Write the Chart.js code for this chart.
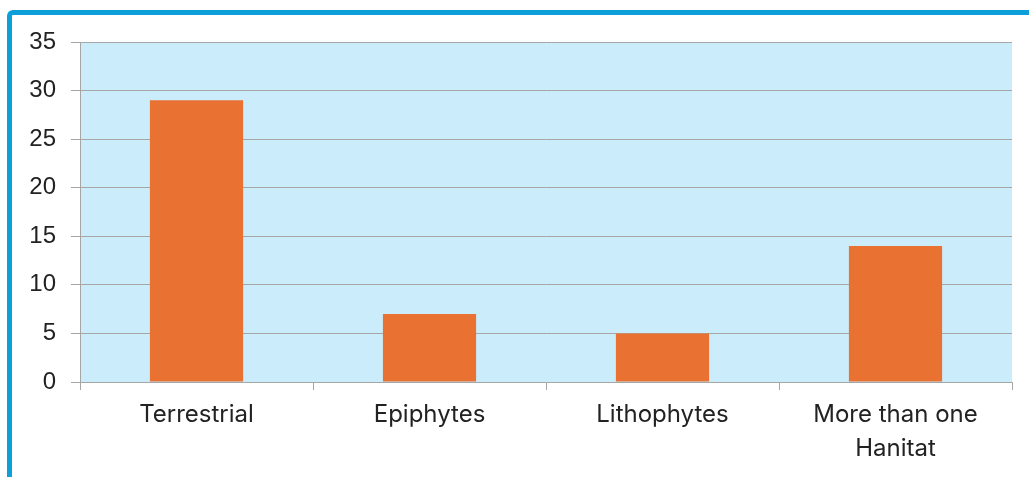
<!DOCTYPE html>
<html>
<head>
<meta charset="utf-8">
<script src="https://cdn.jsdelivr.net/npm/chart.js@4"></script>
<style>
  html, body { margin: 0; padding: 0; background: #fff; overflow: hidden; }
  #frame {
    position: absolute; left: 7px; top: 10px; width: 1100px; height: 600px;
    border-top: 5px solid #0c9fd9; border-left: 5px solid #0c9fd9;
    border-top-left-radius: 6px; box-sizing: border-box;
  }
  #wrap { position: absolute; left: 0; top: 0; width: 1029px; height: 477px; }
</style>
</head>
<body>
<div id="frame"></div>
<div id="wrap"><canvas id="chart"></canvas></div>
<script>
// habitat categories and species counts
const categories = ['Terrestrial', 'Epiphytes', 'Lithophytes', ['More than one', 'Hanitat']];
const counts = [29, 7, 5, 14];
const yTicks = [0, 5, 10, 15, 20, 25, 30, 35];

// fill the plot area light blue
const plotBg = {
    id: 'plotBg',
    beforeDraw(chart) {
        const { ctx, chartArea: a } = chart;
        ctx.save();
        ctx.fillStyle = '#cbecfb';
        ctx.fillRect(a.left, a.top, a.right - a.left, a.bottom - a.top);
        ctx.restore();
    }
};

new Chart(document.getElementById('chart'), {
    type: 'bar',
    data: {
        labels: categories,
        datasets: [{
            data: counts,
            backgroundColor: '#e97132',
            categoryPercentage: 1,
            barPercentage: 0.4
        }]
    },
    options: {
        responsive: true,
        maintainAspectRatio: false,
        animation: false,
        layout: { padding: { top: 42, right: 17, left: 0, bottom: 0 } },
        plugins: { legend: { display: false }, tooltip: { enabled: false } },
        scales: {
            x: {
                grid: { offset: true, drawOnChartArea: false, tickLength: 8, color: '#a6a6a6' },
                border: { color: '#a6a6a6' },
                ticks: {
                    color: '#222',
                    font: { family: 'Inter', size: 24, lineHeight: 1.4 },
                    padding: 8,
                    maxRotation: 0
                },
                afterFit(scale) { scale.height = 95; }
            },
            y: {
                min: 0,
                max: 35,
                afterBuildTicks(scale) { scale.ticks = yTicks.map(v => ({ value: v })); },
                grid: { color: '#a6a6a6', tickLength: 9 },
                border: { color: '#a6a6a6' },
                ticks: {
                    color: '#222',
                    font: { family: 'Liberation Sans', size: 24 },
                    padding: 15
                },
                afterFit(scale) { scale.width = 80; }
            }
        }
    },
    plugins: [plotBg]
});
</script>
</body>
</html>
